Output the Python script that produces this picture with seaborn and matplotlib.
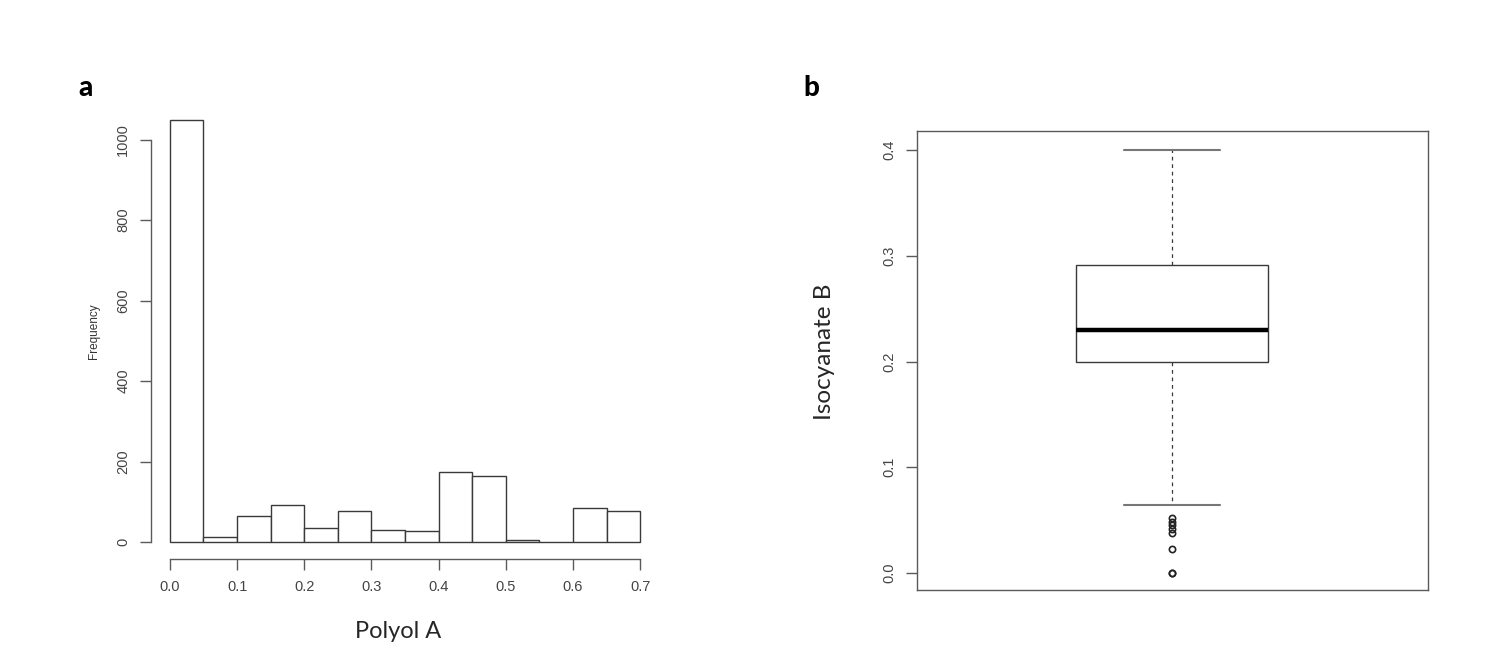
import numpy as np
import pandas as pd
import matplotlib
matplotlib.use('Agg')
import matplotlib.pyplot as plt
import seaborn as sns

sns.set_style('ticks')
plt.rcParams['font.family'] = ['Liberation Sans', 'DejaVu Sans']

# panel a: histogram of Polyol A (counts per 0.05 bin)
bin_edges = [0.0, 0.05, 0.1, 0.15, 0.2, 0.25, 0.3, 0.35, 0.4, 0.45, 0.5, 0.55, 0.6, 0.65, 0.7]
bin_counts = [1049, 12, 65, 92, 36, 77, 31, 27, 175, 164, 4, 0, 85, 76]
hist_xticks = [0.0, 0.1, 0.2, 0.3, 0.4, 0.5, 0.6, 0.7]
hist_yticks = [0, 200, 400, 600, 800, 1000]

# panel b: Isocyanate B sample reproducing the drawn box (Q1 0.2, median 0.23, Q3 0.291)
iso_b = [0.0, 0.0, 0.023, 0.038, 0.042, 0.045, 0.048, 0.052,
         0.0645, 0.15,
         0.200, 0.203, 0.206, 0.209, 0.212, 0.215, 0.218, 0.221, 0.224, 0.227,
         0.230, 0.236, 0.242, 0.248, 0.254, 0.260, 0.266, 0.272, 0.278, 0.285,
         0.291, 0.300, 0.310, 0.320, 0.330, 0.340, 0.350, 0.360, 0.370, 0.380,
         0.400]
box_yticks = [0.0, 0.1, 0.2, 0.3, 0.4]

line_c = '#3a3a3a'
axis_c = '#5a5a5a'
tick_txt = '#444444'
big_font = ['Lato', 'DejaVu Sans']

fig = plt.figure(figsize=(15.03, 6.57), dpi=100)
ax1 = fig.add_axes([0.1005, 0.1492, 0.338, 0.694])
ax2 = fig.add_axes([0.610, 0.102, 0.340, 0.6986])

# histogram
mids = [(bin_edges[i] + bin_edges[i + 1]) / 2 for i in range(len(bin_counts))]
hist_df = pd.DataFrame({'polyol_a': mids, 'count': bin_counts})
sns.histplot(data=hist_df, x='polyol_a', weights='count', bins=bin_edges,
             color='white', edgecolor=line_c, linewidth=1.0, alpha=1, ax=ax1)
ax1.set_xlim(-0.028, 0.728)
ax1.set_ylim(-42, 1091)
ax1.set_xticks(hist_xticks)
ax1.set_xticklabels(['{:.1f}'.format(t) for t in hist_xticks], fontsize=10.5, color=tick_txt)
ax1.set_yticks(hist_yticks)
ax1.set_yticklabels([str(t) for t in hist_yticks], fontsize=10.5, color=tick_txt,
                    rotation=90, va='center')
for s in ['top', 'right']:
    ax1.spines[s].set_visible(False)
ax1.spines['left'].set_bounds(0, 1000)
ax1.spines['bottom'].set_bounds(0, 0.7)
for s in ['left', 'bottom']:
    ax1.spines[s].set_color(axis_c)
    ax1.spines[s].set_linewidth(1.0)
ax1.tick_params(direction='out', length=8, width=1.0, color=axis_c, pad=7)
ax1.set_ylabel('Frequency', fontsize=8.5, labelpad=12, color='#333333')
ax1.set_xlabel('Polyol A', fontsize=17, family=big_font)
ax1.xaxis.set_label_coords(0.486, -0.16)
ax1.xaxis.label.set_va('center')

# boxplot
box_df = pd.DataFrame({'isocyanate_b': iso_b})
sns.boxplot(data=box_df, y='isocyanate_b', width=0.406, ax=ax2,
            boxprops=dict(facecolor='white', edgecolor=line_c, linewidth=1.0),
            medianprops=dict(color='black', linewidth=3.2),
            whiskerprops=dict(color=line_c, linewidth=0.9, linestyle=(0, (3, 3))),
            capprops=dict(color='#777777', linewidth=1.5),
            flierprops=dict(marker='o', markerfacecolor='none', markeredgecolor='#222222',
                            markersize=4.5, markeredgewidth=1.2))
ax2.set_xlim(-0.54, 0.54)
ax2.set_ylim(-0.016, 0.418)
ax2.set_xticks([])
ax2.set_yticks(box_yticks)
ax2.set_yticklabels(['{:.1f}'.format(t) for t in box_yticks], fontsize=10.5, color=tick_txt,
                    rotation=90, va='center')
for s in ax2.spines.values():
    s.set_visible(True)
    s.set_color(axis_c)
    s.set_linewidth(1.0)
ax2.tick_params(axis='y', direction='out', length=8, width=1.0, color=axis_c, pad=7)
ax2.set_ylabel('Isocyanate B', fontsize=17.5, family=big_font)
ax2.yaxis.set_label_coords(-0.18, 0.52)
ax2.yaxis.label.set_va('center')

# panel letters
fig.text(0.0572, 0.866, 'a', fontsize=20, fontweight='black', family=big_font,
         ha='center', va='center', color='black')
fig.text(0.5395, 0.866, 'b', fontsize=20, fontweight='black', family=big_font,
         ha='center', va='center', color='black')

fig.savefig('out.png', dpi=100, facecolor='white')
